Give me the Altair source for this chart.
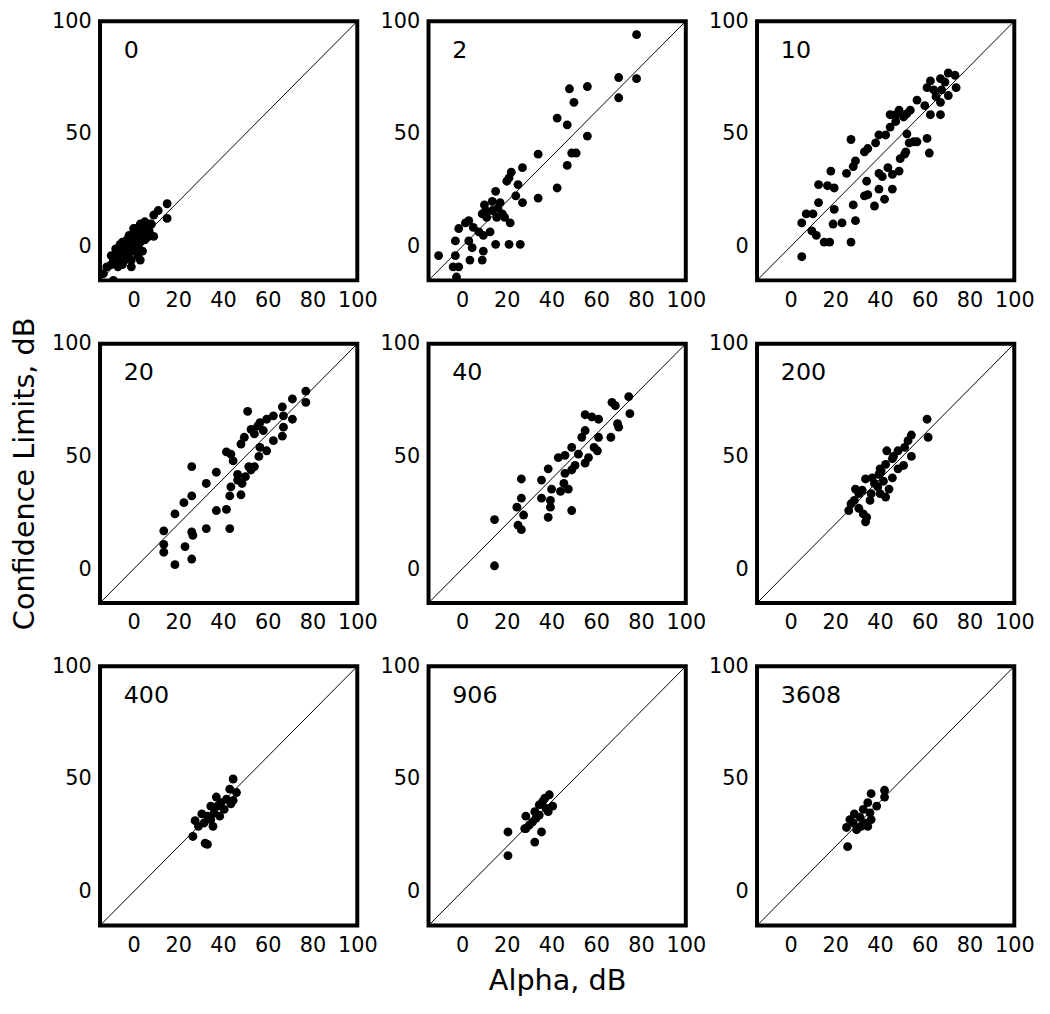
import altair as alt
import pandas as pd

# ---- data (Alpha, dB  vs  Confidence Limits, dB) ----
panel_labels = ["0", "2", "10", "20", "40", "200", "400", "906", "3608"]
x_ticks = [0, 20, 40, 60, 80, 100]
y_ticks = [0, 50, 100]
axis_range = [-15, 100]
diag_vals = [-15, 100]

alpha_0 = [15, 11, 15, 9, 9, 7, 6, 5, 4, 3, 2, 1, 0, 0, -1, -2, -3, -4, -5, -6, -7, -8, -9, -10, -12,
           -13.5, -9, -1, 2, 1, 3, 4, 5, 6, -2, -4, -6, -3, 0, 2, 7, 8, -1, 3, -5, -7, 4, -2, -5, -8,
           0, 3, -3, -6, 1, -10]
limit_0 = [19, 16, 12.5, 14, 4.5, 10, 8, 11, 7, 9, 5, 8, 6, 2, 4, 1, 3, 0, -2, 1, -3, -5, -6, -8, -9,
           -12, -15, -9, -4, -1, 2, -2, 3, 4, -5, -6, -4, -3, -2, 0, 7, 10, -6, -6, -8, -9, 5, 5, 2, -1,
           8, 10, -1, -6, 3, -4]

alpha_2 = [78, 70, 78, 70, 48, 56, 50, 42.5, 47, 56, 34, 49, 51, 47, 42.5, 34, 27, 21, 25, 27, 24, 15,
           10, 16, 19, 21.5, 15.5, 11, 3, -1.5, -3, 3, 9.5, 15, 21, 26, 4.5, 3.5, 9, 9.5, -10.5, -3,
           -4, -2.5, -1.5, 7.5, 12.5, 13.5, 9, 1.5, 5, 18, 22, 20, 13.5, 10.5, 17]
limit_2 = [94, 75, 74.5, 66, 70, 71, 64, 57, 54, 49, 41, 41.5, 41.5, 36, 26, 21.5, 35, 30.5, 27.5, 19.5,
           22.5, 24.5, 18.5, 17, 13, 10.5, 13, 13, 11.5, 8, 2.5, 2.5, 5, 1, 1, 1, -0.5, -6, -6, -2,
           -4, -4, -9, -13.5, -9, 6.5, 6.5, 16, 14.5, 10.5, 8.5, 14.5, 33, 29, 20, 16, 19.5]

alpha_10 = [70.5, 73.5, 67, 62.5, 69, 74, 61, 64, 67.5, 70.5, 65, 67, 56.5, 60, 62.5, 67, 53.5, 52, 48.5,
            47, 44.5, 50.5, 47, 44.5, 52, 42.5, 39.5, 38, 34.5, 33, 27, 29, 28, 25, 18, 12.5, 16.5,
            19.5, 12.5, 10, 5, 9.5, 11.5, 15, 17.5, 19.5, 19, 23, 27, 28, 29, 5, 7, 33, 34.5, 37.5,
            39.5, 42, 45.5, 43.5, 39.5, 41, 45.5, 48.5, 49, 51.5, 53, 55, 56.5, 61, 62, 34, 51]
limit_10 = [77, 76, 74.5, 73.5, 73, 70.5, 70.5, 69.5, 69.5, 67, 66.5, 64, 65, 62.5, 58.5, 58.5, 60.5, 59,
            60.5, 58.5, 58.5, 57.5, 55.5, 53, 50, 49.5, 49.5, 46, 43.5, 42, 47.5, 38, 35.5, 32.5, 33.5,
            27.5, 27, 26, 19.5, 14.5, 10.5, 7, 5, 2, 2, 16.5, 10, 10.5, 2, 18.5, 11.5, -4.5, 14.5,
            22.5, 23, 18, 25.5, 21, 25.5, 35, 32.5, 31, 32, 33.5, 39, 42, 46, 46.5, 46.5, 48, 41.5,
            29, 41]

alpha_20 = [77, 77, 71, 66.5, 67, 71, 62.5, 59.5, 56.5, 55.5, 52.5, 51, 58, 62.5, 67, 66.5, 59.5, 56,
            52.5, 50, 46.5, 48.5, 48, 43.5, 43, 41.5, 43, 37, 37, 32.5, 41.5, 43.5, 48, 49.5, 54, 44.5,
            26, 22.5, 26, 18.5, 26, 26.5, 32.5, 13.5, 13.5, 13.5, 23, 26, 18.5, 54, 56.5, 51.5, 46.5]
limit_20 = [79, 74, 75.5, 72, 68, 66.5, 68, 66.5, 65, 63.5, 62, 70, 61.5, 57, 63, 59, 52.5, 50, 44, 41,
            42, 38, 33, 36.5, 32.5, 26.5, 18, 26, 43, 38, 52, 51, 55.5, 58.5, 60, 48, 45.5, 29.5, 32.5,
            24.5, 16.5, 15, 18, 17, 11, 7.5, 10, 4.5, 2, 45.5, 54, 45.5, 39.5]

alpha_40 = [74.5, 75, 67, 68.5, 69.5, 70, 66.5, 61, 58, 55, 55, 53.5, 61, 60.5, 56.5, 55, 50.5, 49,
            46, 43, 38.5, 46, 45.5, 47.5, 44, 40, 35.5, 35.5, 39.5, 39.5, 49, 38.5, 26.5, 26.5, 24.5,
            27.5, 26.5, 25, 14.5, 14.5, 52, 49, 59]
limit_40 = [76.5, 69, 74, 72.5, 64.5, 63, 58.5, 66.5, 67.5, 68.5, 61.5, 58.5, 58.5, 52.5, 49.5, 47,
            46, 54, 50.5, 49.5, 44.5, 42.5, 38, 35.5, 34.5, 35.5, 39.5, 31.5, 30.5, 27.5, 26, 23, 40,
            31.5, 27.5, 24, 17.5, 19.5, 22, 1.5, 51, 44, 54]

alpha_200 = [61, 61.5, 54, 52.5, 54, 50.5, 48, 43, 45.5, 42.5, 39.5, 36.5, 33.5, 29, 32, 28.5, 27, 26,
             30.5, 32.5, 33.5, 34, 42.5, 40, 44, 41.5, 45.5, 40, 37.5, 36, 39, 48, 51, 46, 40.5, 35.5,
             30.5]
limit_200 = [66.5, 58.5, 59.5, 57, 50, 46, 52.5, 52.5, 49, 46.5, 42, 40.5, 40, 35.5, 35, 30.5, 29, 26,
             27, 24.5, 21, 23, 32, 33.5, 35.5, 39, 40.5, 44.5, 38, 33.5, 36.5, 44.5, 54, 50, 43.5,
             30.5, 33.5]

alpha_400 = [44.5, 46, 43, 41.5, 39, 37, 34.5, 36, 33, 30.5, 27.5, 29, 26.5, 32, 33, 35.5, 38.5, 40.5,
             43.5, 44.5, 34.5, 31.5, 37.5]
limit_400 = [50, 44, 45.5, 41, 39.5, 42, 38, 35, 33.5, 34.5, 31.5, 29, 24.5, 21.5, 21, 29, 33.5, 36.5,
             39, 40.5, 32, 30.5, 38]

alpha_906 = [39, 40.5, 37, 34.5, 32.5, 28.5, 28, 31.5, 35.5, 32.5, 20.5, 20.5, 34.5, 37.5, 30, 33, 36,
             28.5, 38.5]
limit_906 = [43, 38, 41.5, 38.5, 35.5, 33.5, 28, 31, 26.5, 22, 26.5, 16, 34, 37, 29.5, 32.5, 40, 28,
             35.5]

alpha_3608 = [42, 42, 36, 34.5, 38.5, 32.5, 28.5, 26.5, 25, 29.5, 34.5, 36, 25.5, 31, 33, 35.5, 28,
              31.5]
limit_3608 = [45, 42, 43.5, 39.5, 38, 36.5, 34.5, 32, 28.5, 27.5, 29, 32, 20, 33, 30.5, 35, 30.5, 29]

series = [
    (alpha_0, limit_0), (alpha_2, limit_2), (alpha_10, limit_10),
    (alpha_20, limit_20), (alpha_40, limit_40), (alpha_200, limit_200),
    (alpha_400, limit_400), (alpha_906, limit_906), (alpha_3608, limit_3608),
]

FONT = "DejaVu Sans"
W, H = 260, 262


def panel(idx):
    xs, ys = series[idx]
    df = pd.DataFrame({"alpha": xs, "limit": ys})
    diag = pd.DataFrame({"alpha": diag_vals, "limit": diag_vals})
    lab = pd.DataFrame({"label": [panel_labels[idx]]})

    xscale = alt.Scale(domain=axis_range, nice=False, zero=False)
    yscale = alt.Scale(domain=axis_range, nice=False, zero=False)
    xt = "Alpha, dB" if idx == 7 else None
    yt = "Confidence Limits, dB" if idx == 3 else None
    xenc = alt.X("alpha:Q", scale=xscale, title=xt,
                 axis=alt.Axis(values=x_ticks, labelFlush=False))
    yenc = alt.Y("limit:Q", scale=yscale, title=yt,
                 axis=alt.Axis(values=y_ticks, labelFlush=False))

    line = alt.Chart(diag).mark_line(color="black", strokeWidth=1, clip=True).encode(x=xenc, y=yenc)
    pts = alt.Chart(df).mark_circle(size=80, color="black", opacity=1, clip=True).encode(x=xenc, y=yenc)
    txt = alt.Chart(lab).mark_text(align="left", baseline="middle", fontSize=24, font=FONT,
                                   color="black").encode(
        x=alt.value(24), y=alt.value(30), text="label:N")
    return alt.layer(line, pts, txt).properties(width=W, height=H)


chart = alt.concat(*[panel(i) for i in range(9)], columns=3,
                   spacing={"row": 64, "column": 72}, bounds="flush").properties(
    padding={"left": 0, "top": -5, "right": 5, "bottom": 0},
    background="white"
).configure_view(
    stroke="black", strokeWidth=4, fill="white"
).configure_axis(
    domain=False, ticks=False, grid=False,
    labelFont=FONT, labelFontSize=21, labelColor="black", labelPadding=9,
    titleFont=FONT, titleFontSize=29, titleFontWeight="normal", titleColor="black",
    titlePadding=12
)

chart.save("out.html", embed_options={"renderer": "svg", "actions": False})
